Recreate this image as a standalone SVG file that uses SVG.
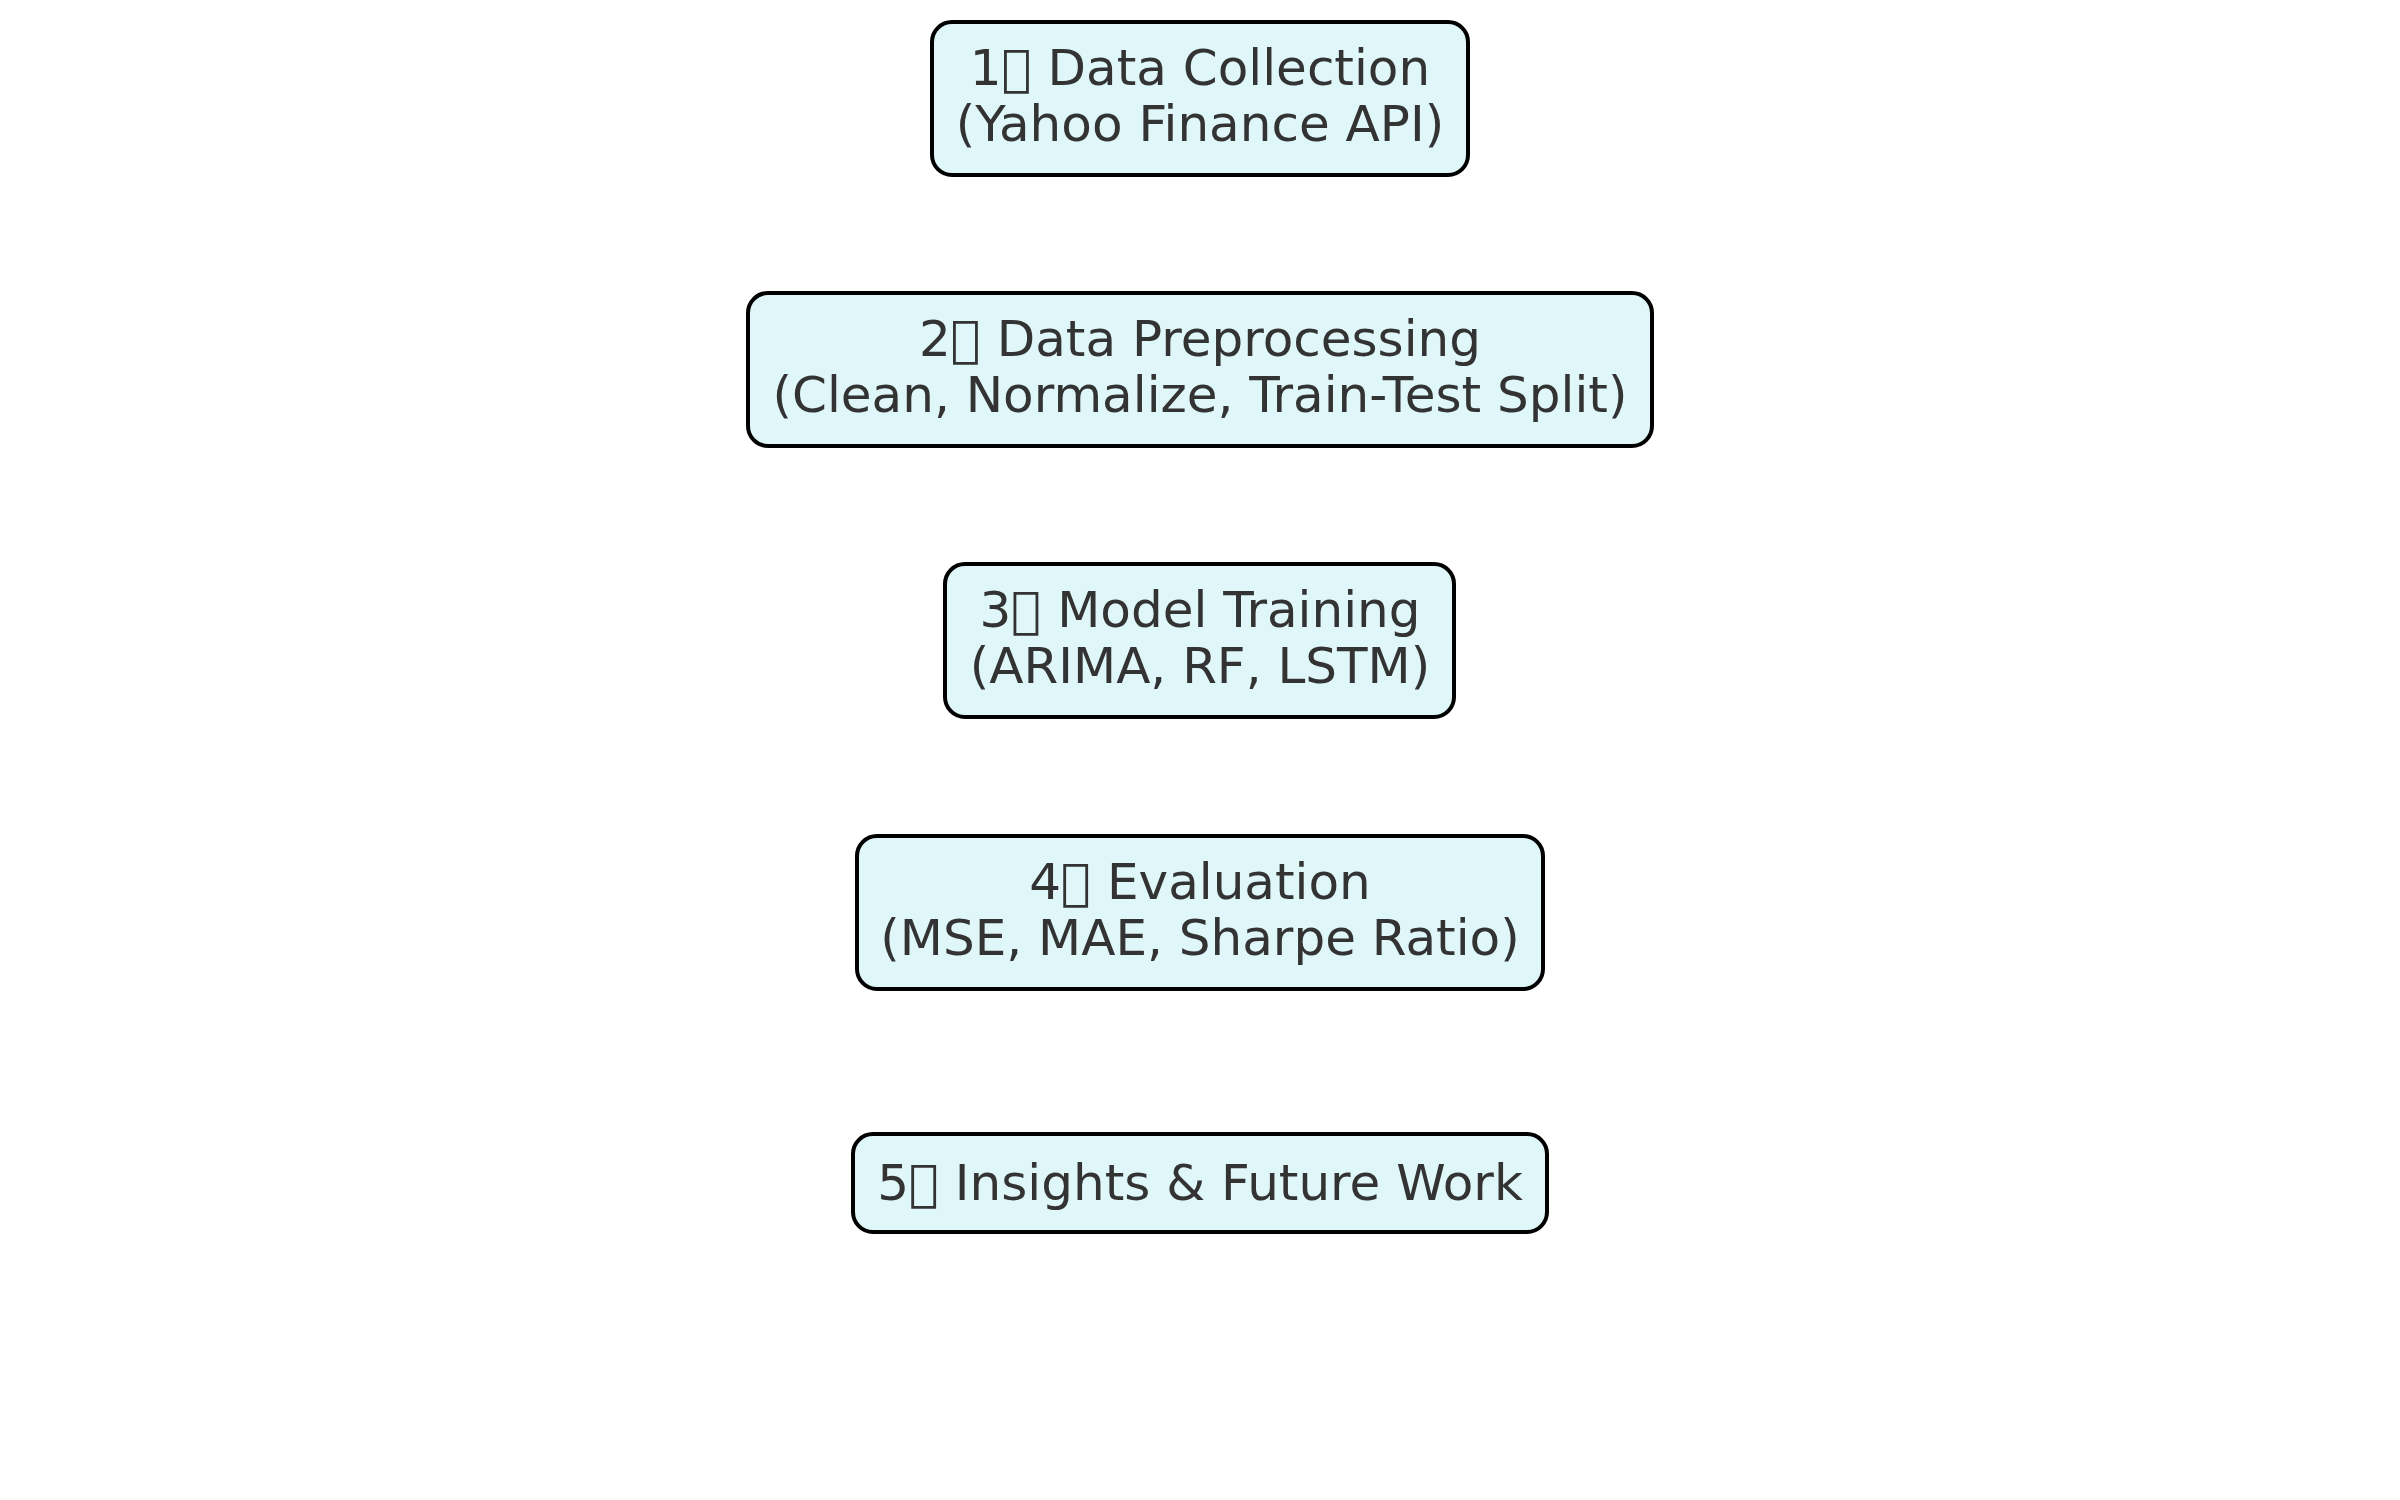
<svg xmlns="http://www.w3.org/2000/svg" width="2400" height="1500" viewBox="0 0 2400 1500">
<style>
.box{fill:#e0f7fa;stroke:#000;stroke-width:4}
.t{font-family:"DejaVu Sans",sans-serif;font-size:50px;fill:#333333;text-anchor:middle}
</style>
<rect width="2400" height="1500" fill="#fff"/>
<g id="connectors"></g>
<g id="n1">
<rect class="box" x="932" y="22" width="536" height="153" rx="20"/>
<text class="t" x="1200" y="85">1&#x20E3; Data Collection</text>
<text class="t" x="1200" y="141">(Yahoo Finance API)</text>
</g>
<g id="n2">
<rect class="box" x="748" y="293" width="904" height="153" rx="20"/>
<text class="t" x="1200" y="356">2&#x20E3; Data Preprocessing</text>
<text class="t" x="1200" y="412">(Clean, Normalize, Train-Test Split)</text>
</g>
<g id="n3">
<rect class="box" x="945" y="564" width="509" height="153" rx="20"/>
<text class="t" x="1200" y="627">3&#x20E3; Model Training</text>
<text class="t" x="1200" y="683">(ARIMA, RF, LSTM)</text>
</g>
<g id="n4">
<rect class="box" x="857" y="836" width="686" height="153" rx="20"/>
<text class="t" x="1200" y="899">4&#x20E3; Evaluation</text>
<text class="t" x="1200" y="955">(MSE, MAE, Sharpe Ratio)</text>
</g>
<g id="n5">
<rect class="box" x="853" y="1134" width="694" height="98" rx="20"/>
<text class="t" x="1200" y="1200">5&#x20E3; Insights &amp; Future Work</text>
</g>
</svg>
